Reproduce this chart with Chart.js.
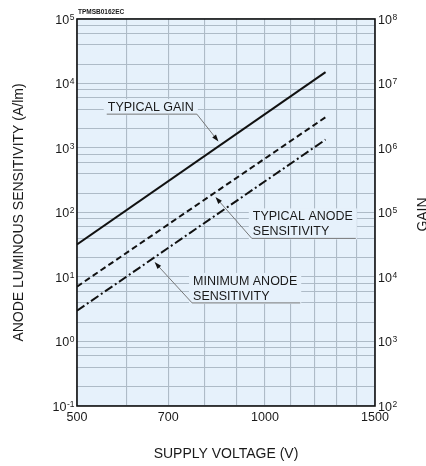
<!DOCTYPE html>
<html>
<head>
<meta charset="utf-8">
<script src="https://cdn.jsdelivr.net/npm/chart.js@4"></script>
<style>
  html, body { margin: 0; padding: 0; background: #fff; }
  canvas { display: block; }
</style>
</head>
<body>
<canvas id="pmtChart" width="426" height="466"></canvas>
<script>
// supply voltage (V) at both ends of each straight log-log characteristic
const voltage = [500, 1250];
const typicalGain = [3.2e4, 1.5e7];        // right axis
const typicalAnode = [7.1, 3.0e3];         // A/lm, left axis
const minimumAnode = [3.0, 1.35e3];        // A/lm, left axis

const xTicks = [500, 700, 1000, 1500];
const xGrid = [500, 600, 700, 800, 900, 1000, 1100, 1200, 1300, 1400, 1500];
const leftExp = [-1, 0, 1, 2, 3, 4, 5];
const rightExp = [2, 3, 4, 5, 6, 7, 8];
const minorSteps = [2, 4, 6, 8];

const FONT = "'Liberation Sans', Arial, Helvetica, sans-serif";
const INK = "#1a1a1a";
const PLOT_BG = "#e6f1fb";
const GRID = "#aebbc7";

// label anchors in data space: [voltage, value on left axis]
const notes = [
  { lines: ["TYPICAL GAIN"], at: [560, 4300], tipV: 850, curve: "gain", under: 0 },
  { lines: ["TYPICAL ANODE", "SENSITIVITY"], at: [956, 87], tipV: 825, curve: "anode", under: 1 },
  { lines: ["MINIMUM ANODE", "SENSITIVITY"], at: [767, 8.7], tipV: 659, curve: "min", under: 1 }
];

function pts(ys) {
  return voltage.map((v, i) => ({ x: v, y: ys[i] }));
}

// value of a straight log-log line at voltage v
function onLine(ys, v) {
  const t = Math.log(v / voltage[0]) / Math.log(voltage[1] / voltage[0]);
  return Math.pow(10, Math.log10(ys[0]) + t * (Math.log10(ys[1]) - Math.log10(ys[0])));
}

function logGrid(lo, hi) {
  const out = [];
  for (let e = lo; e < hi; e++) {
    out.push(Math.pow(10, e));
    minorSteps.forEach(d => out.push(d * Math.pow(10, e)));
  }
  out.push(Math.pow(10, hi));
  return out.map(v => ({ value: v }));
}

function powerLabel(ctx, x, y, exp, align) {
  const base = "10", sup = String(exp).replace("-", "-");
  ctx.font = "12.5px " + FONT;
  const wb = ctx.measureText(base).width;
  ctx.font = "8.5px " + FONT;
  const ws = ctx.measureText(sup).width;
  const left = align === "right" ? x - wb - ws : x;
  ctx.fillStyle = INK;
  ctx.textAlign = "left";
  ctx.textBaseline = "alphabetic";
  ctx.font = "12.5px " + FONT;
  ctx.fillText(base, left, y + 4.5);
  ctx.font = "8.5px " + FONT;
  ctx.fillText(sup, left + wb + 0.5, y + 0.5);
}

const backdrop = {
  id: "backdrop",
  beforeDraw(chart) {
    const a = chart.chartArea, c = chart.ctx;
    c.save();
    c.fillStyle = PLOT_BG;
    c.fillRect(a.left, a.top, a.right - a.left, a.bottom - a.top);
    c.restore();
  }
};

const annotations = {
  id: "annotations",
  beforeDatasetsDraw(chart) {
    const c = chart.ctx;
    const xs = chart.scales.x, ys = chart.scales.y;
    const curves = { gain: typicalGain.map(v => v / 1000), anode: typicalAnode, min: minimumAnode };
    c.save();
    c.font = "12.5px " + FONT;
    notes.forEach(n => {
      const x0 = xs.getPixelForValue(n.at[0]);
      const y0 = ys.getPixelForValue(n.at[1]);
      const w = Math.max(...n.lines.map(s => c.measureText(s).width));
      // box hides the grid behind the text
      c.fillStyle = PLOT_BG;
      c.fillRect(x0 - 4, y0 - 8, w + 8, n.lines.length * 15 + 1);
      c.fillStyle = INK;
      c.textAlign = "left";
      c.textBaseline = "middle";
      n.lines.forEach((s, i) => c.fillText(s, x0, y0 + i * 15 + 0.5));

      // leader: underline then slanted arrow to the curve
      const uy = y0 + n.under * 15 + 7;
      const tx = xs.getPixelForValue(n.tipV);
      const ty = ys.getPixelForValue(onLine(curves[n.curve], n.tipV));
      const sx = n.curve === "gain" ? x0 + w + 3 : x0 - 1;
      const dx = tx - sx, dy = ty - uy, len = Math.hypot(dx, dy);
      const ux = dx / len, uyv = dy / len;
      const ex = tx - ux * 4, ey = ty - uyv * 4;
      c.strokeStyle = "#6a6a6a";
      c.lineWidth = 0.9;
      c.beginPath();
      c.moveTo(x0 - 1, uy);
      c.lineTo(x0 + w + 3, uy);
      c.stroke();
      c.beginPath();
      c.moveTo(sx, uy);
      c.lineTo(ex - ux * 5, ey - uyv * 5);
      c.stroke();
      c.fillStyle = "#111";
      c.beginPath();
      c.moveTo(ex, ey);
      c.lineTo(ex - ux * 7 - uyv * 2.4, ey - uyv * 7 + ux * 2.4);
      c.lineTo(ex - ux * 7 + uyv * 2.4, ey - uyv * 7 - ux * 2.4);
      c.closePath();
      c.fill();
    });
    c.restore();
  }
};

const frameAndLabels = {
  id: "frameAndLabels",
  afterDraw(chart) {
    const a = chart.chartArea, c = chart.ctx;
    const xs = chart.scales.x, ys = chart.scales.y, y2 = chart.scales.y2;
    c.save();
    c.strokeStyle = "#111";
    c.lineWidth = 1.6;
    c.strokeRect(a.left, a.top, a.right - a.left, a.bottom - a.top);

    leftExp.forEach(e => powerLabel(c, a.left - 3, ys.getPixelForValue(Math.pow(10, e)), e, "right"));
    rightExp.forEach(e => powerLabel(c, a.right + 3, y2.getPixelForValue(Math.pow(10, e)), e, "left"));

    c.fillStyle = INK;
    c.font = "12.5px " + FONT;
    c.textAlign = "center";
    c.textBaseline = "alphabetic";
    xTicks.forEach(v => c.fillText(String(v), xs.getPixelForValue(v), a.bottom + 15));

    c.font = "14px " + FONT;
    c.fillText("SUPPLY VOLTAGE (V)", (a.left + a.right) / 2, 458);

    c.save();
    c.translate(23, (a.top + a.bottom) / 2);
    c.rotate(-Math.PI / 2);
    c.fillText("ANODE LUMINOUS SENSITIVITY (A/lm)", 0, 0);
    c.restore();

    c.save();
    c.translate(426.5, (a.top + a.bottom) / 2 + 2);
    c.rotate(-Math.PI / 2);
    c.fillText("GAIN", 0, 0);
    c.restore();

    c.font = "bold 6.5px " + FONT;
    c.textAlign = "left";
    c.fillText("TPMSB0162EC", a.left + 1, 14);
    c.restore();
  }
};

new Chart(document.getElementById("pmtChart").getContext("2d"), {
  type: "line",
  data: {
    datasets: [
      {
        label: "TYPICAL GAIN",
        data: pts(typicalGain),
        yAxisID: "y2",
        borderColor: "#111",
        borderWidth: 2,
        pointRadius: 0
      },
      {
        label: "TYPICAL ANODE SENSITIVITY",
        data: pts(typicalAnode),
        yAxisID: "y",
        borderColor: "#111",
        borderWidth: 2,
        borderDash: [6, 3.5],
        pointRadius: 0
      },
      {
        label: "MINIMUM ANODE SENSITIVITY",
        data: pts(minimumAnode),
        yAxisID: "y",
        borderColor: "#111",
        borderWidth: 2,
        borderDash: [9, 3, 2, 3],
        pointRadius: 0
      }
    ]
  },
  options: {
    responsive: false,
    animation: false,
    devicePixelRatio: 1,
    layout: { padding: { left: 77, right: 51, top: 19, bottom: 60 } },
    plugins: { legend: { display: false }, tooltip: { enabled: false } },
    scales: {
      x: {
        type: "logarithmic",
        min: 500,
        max: 1500,
        afterBuildTicks: s => { s.ticks = xGrid.map(v => ({ value: v })); },
        ticks: { display: false },
        grid: { color: GRID, lineWidth: 1.1, drawTicks: false },
        border: { display: false }
      },
      y: {
        type: "logarithmic",
        position: "left",
        min: 0.1,
        max: 1e5,
        afterBuildTicks: s => { s.ticks = logGrid(-1, 5); },
        ticks: { display: false },
        grid: { color: GRID, lineWidth: 1.1, drawTicks: false },
        border: { display: false }
      },
      y2: {
        type: "logarithmic",
        position: "right",
        min: 1e2,
        max: 1e8,
        ticks: { display: false },
        grid: { display: false, drawTicks: false },
        border: { display: false }
      }
    }
  },
  plugins: [backdrop, annotations, frameAndLabels]
});
</script>
</body>
</html>
